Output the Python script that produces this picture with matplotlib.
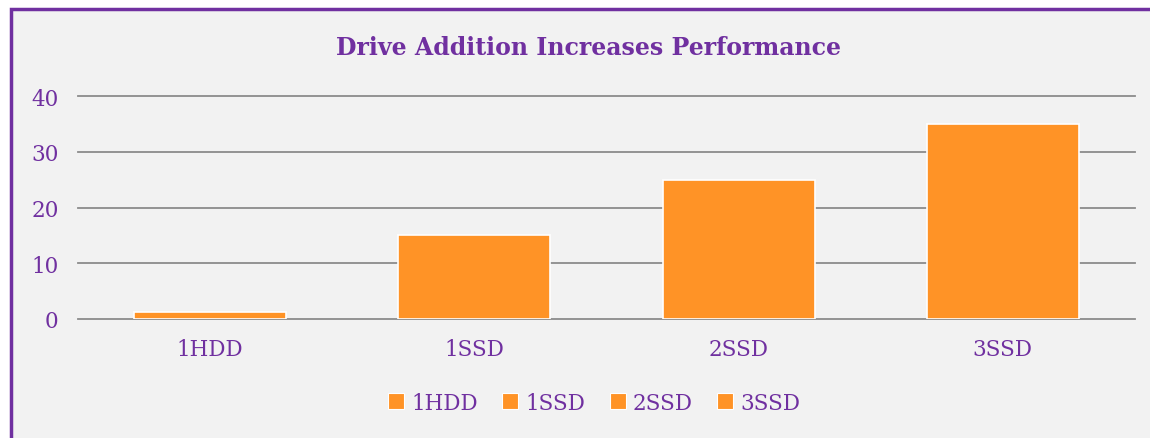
import matplotlib.pyplot as plt
from matplotlib.patches import Rectangle
from matplotlib.lines import Line2D

categories = ['1HDD', '1SSD', '2SSD', '3SSD']
values = [1.2, 15, 25, 35]
yticks = [0, 10, 20, 30, 40]

purple = '#7030a0'
orange = '#ff9326'
grid_clr = '#8c8c8c'
W, H = 1150, 439

plt.rcParams['font.family'] = ['DejaVu Serif']

fig = plt.figure(figsize=(W / 100, H / 100), dpi=100)
fig.patch.set_facecolor('white')

# chart frame: purple border, cut off at right and bottom
fig.patches.append(Rectangle((11 / W, -0.05), 1.1, 1 - 9.5 / H + 0.05,
                             transform=fig.transFigure, facecolor='#f2f2f2',
                             edgecolor=purple, linewidth=2.5, zorder=-10))

ax = fig.add_axes([78 / W, 1 - 320 / H, (1135 - 78) / W, (320 - 97) / H])
ax.set_facecolor('none')

ax.bar(range(len(categories)), values, width=0.575, color=orange,
       edgecolor='white', linewidth=1.2, zorder=3)

ax.set_ylim(0, 40)
ax.set_xlim(-0.5, len(categories) - 0.5)
ax.set_yticks(yticks)
ax.set_xticks(range(len(categories)))
ax.set_xticklabels(categories)
ax.yaxis.grid(True, color=grid_clr, linewidth=1.3, zorder=1)
for gl in ax.get_ygridlines():
    gl.set_clip_on(False)
ax.set_axisbelow(True)
for s in ax.spines.values():
    s.set_visible(False)
ax.tick_params(axis='both', length=0, labelsize=15.5, labelcolor=purple)
ax.tick_params(axis='y', pad=14)
ax.tick_params(axis='x', pad=14)

fig.text(588 / W, 1 - 48 / H, 'Drive Addition Increases Performance',
         ha='center', va='center', fontsize=17, fontweight='bold', color=purple)

handles = [Line2D([], [], linestyle='none', marker='s', markersize=11,
                  markerfacecolor=orange, markeredgecolor='white',
                  markeredgewidth=0.8) for _ in categories]
leg = fig.legend(handles, categories, loc='center', ncol=4,
                 bbox_to_anchor=(594 / W, 1 - 404 / H), frameon=False,
                 fontsize=15.5, handlelength=0.8, handletextpad=0.3,
                 columnspacing=1.1, labelcolor=purple)

fig.savefig('out.png', dpi=100)
